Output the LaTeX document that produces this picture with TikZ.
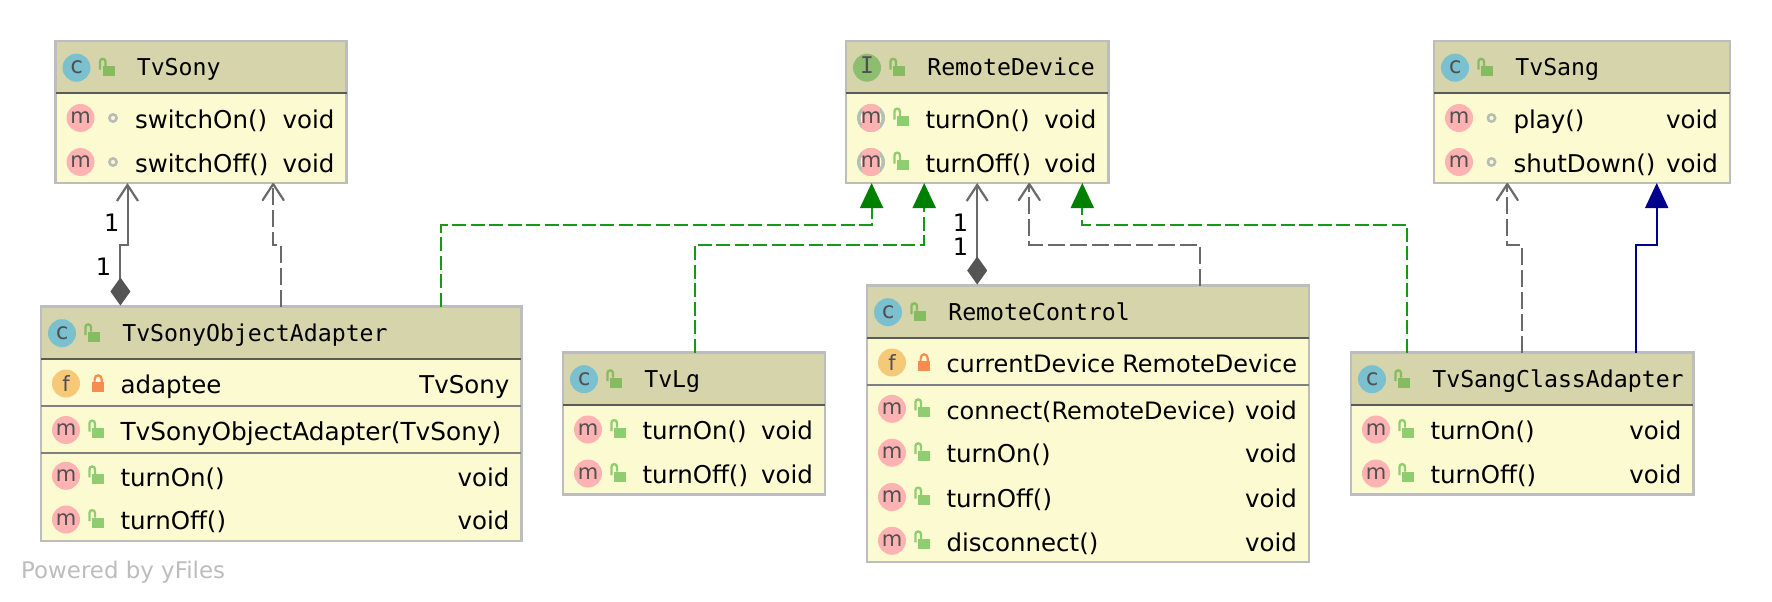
\documentclass[tikz,border=0pt]{standalone}
\usepackage{fontspec}
\setmainfont{DejaVu Sans}
\newfontfamily\hdfont{DejaVu Sans Mono}
\usetikzlibrary{arrows.meta}
\definecolor{hdbg}{HTML}{D6D4AA}
\definecolor{bodybg}{HTML}{FCFAD1}
\definecolor{edgegray}{HTML}{BDBDBD}
\definecolor{hdline}{HTML}{5A5A5A}
\definecolor{sepline}{HTML}{808080}
\definecolor{cblue}{HTML}{7AC0CF}
\definecolor{igreen}{HTML}{8DBE6F}
\definecolor{mpink}{HTML}{FFB2B2}
\definecolor{forange}{HTML}{F6C978}
\definecolor{lockhd}{HTML}{85BC60}
\definecolor{lockrow}{HTML}{90CC70}
\definecolor{lockred}{HTML}{F78C52}
\definecolor{dotgray}{HTML}{B7BDB7}
\definecolor{lettergray}{HTML}{505050}
\definecolor{conngray}{HTML}{6A6A6A}
\definecolor{diagray}{HTML}{555555}
\definecolor{implgreen}{HTML}{008000}
\definecolor{implline}{HTML}{159A15}
\definecolor{extblue}{HTML}{00008B}
\tikzset{
  classnode/.style={draw=edgegray,fill=bodybg,line width=2.5pt,inner sep=0pt,outer sep=0pt,anchor=north west},
  rowtext/.style={inner sep=0pt,outer sep=0pt,text=black,font=\fontsize{24.5}{30}\selectfont},
  headtext/.style={inner sep=0pt,outer sep=0pt,anchor=base west,text=black,font=\hdfont\fontsize{23.2}{28}\selectfont},
  iconletter/.style={inner sep=0pt,outer sep=0pt,anchor=base,text=lettergray,font=\fontsize{21}{24}\selectfont},
  monoletter/.style={inner sep=0pt,outer sep=0pt,anchor=base,text=lettergray,font=\hdfont\fontsize{23}{26}\selectfont},
  multlabel/.style={inner sep=0pt,outer sep=0pt,text=black,font=\fontsize{24}{28}\selectfont},
  depline/.style={draw=conngray,line width=2pt,dash pattern=on 17pt off 5pt,
    -{Straight Barb[length=16pt,width=21pt,line width=2.2pt,round=false,sep=0pt]}},
  assocline/.style={draw=conngray,line width=2pt,
    {Diamond[length=28pt,width=20pt,color=diagray]}-{Straight Barb[length=16pt,width=21pt,line width=2.2pt]}},
  implline/.style={draw=implline,line width=2pt,dash pattern=on 14pt off 4.5pt,
    -{Triangle[length=25pt,width=23pt,color=implgreen]}},
  extline/.style={draw=extblue,line width=2pt,
    -{Triangle[length=25pt,width=23pt,color=extblue]}}
}
\newcount\nn
\newcommand\uid{\global\advance\nn by 1 }
\newcommand\sz[1]{\fontsize{#1}{30}\selectfont}
% local icons, origin at row centre line of the box's left edge
\newcommand\hlock{\fill[lockhd] (47.3,-1.5) rectangle (59,8.5);
  \draw[lockhd,line width=2.3pt] (44.4,2) -- (44.4,-6) .. controls (44.4,-9.8) and (50,-9.8) .. (50,-6) -- (50,-1.5);}
\newcommand\publock{\fill[lockrow] (51.3,-2) rectangle (63,8);
  \draw[lockrow,line width=2.3pt] (48.4,1.5) -- (48.4,-6.5) .. controls (48.4,-10.3) and (54,-10.3) .. (54,-6.5) -- (54,-2);}
\newcommand\pkgdot{\draw[dotgray,line width=2.6pt] (57.5,0) circle[radius=3.6pt];}
\newcommand\privlock{\fill[lockred] (51.3,-2) rectangle (63,8);
  \draw[lockred,line width=2.2pt] (53.6,-1) -- (53.6,-4) .. controls (53.6,-9.6) and (60.7,-9.6) .. (60.7,-4) -- (60.7,-1);}
\newcommand\micon{\fill[mpink] (25,0) circle[radius=14pt];
  \uid\node[iconletter] (i\the\nn) at (25,5.6) {m};}
\newcommand\ficon{\fill[forange] (25,0) circle[radius=14pt];
  \uid\node[iconletter] (i\the\nn) at (25,7.8) {f};}
\newcommand\amicon{\fill[dotgray] (25,0) circle[radius=14pt];
  \fill[bodybg] (25,0) circle[radius=10.5pt];
  \begin{scope}
    \clip (25,0) circle[radius=14pt];
    \fill[mpink] (16,-14) rectangle (34,14);
  \end{scope}
  \uid\node[iconletter] (i\the\nn) at (25,5.6) {m};}
% \classbox{name}{x}{y}{w}{h}{title}{letter}{colour}
\newcommand\classbox[8]{%
  \node[classnode,minimum width=#4pt,minimum height=#5pt] (#1) at (#2,#3) {};
  \fill[hdbg] (#1.north west) rectangle ([yshift=-52pt]#1.north east);
  \draw[edgegray,line width=2.5pt] (#1.north west) rectangle (#1.south east);
  \draw[hdline,line width=2pt] ([yshift=-52pt]#1.north west) -- ([yshift=-52pt]#1.north east);
  \begin{scope}[shift={(#1.north west)},shift={(-4,26.7)}]
    \fill[#8] (25,0) circle[radius=14pt];
    \uid\node[monoletter] (i\the\nn) at (25,5.8) {#7};
    \begin{scope}[shift={(4,0)}]\hlock\end{scope}
    \uid\node[headtext] (h\the\nn) at (85.3,8) {#6};
  \end{scope}}
% \rowitem{box}{dy}{icon}{vis}{name}{type}
\newcommand\rowitem[6]{%
  \begin{scope}[shift={(#1.north west)},shift={(0,#2)}]
    #3
    #4
    \uid\node[rowtext,anchor=base west] (t\the\nn) at (79.5,10.2) {#5};
  \end{scope}
  \uid\node[rowtext,anchor=base east] (r\the\nn) at ([shift={(-12,#2+10.2)}]#1.north east) {#6};}
\newcommand\sepat[2]{\draw[sepline,line width=2pt] ([yshift=-#2pt]#1.north west) -- ([yshift=-#2pt]#1.north east);}
\begin{document}
\begin{tikzpicture}[x=1pt,y=-1pt]
\useasboundingbox (0,0) rectangle (1772,602);
\fill[white] (0,0) rectangle (1772,602);
% classes
\classbox{tvsony}{55.5}{41}{291}{142}{TvSony}{c}{cblue}
\rowitem{tvsony}{77}{\micon}{\pkgdot}{switchOn()}{void}
\rowitem{tvsony}{121}{\micon}{\pkgdot}{switchOff()}{void}

\classbox{sonyadapter}{41}{306.5}{480.4}{234.3}{TvSonyObjectAdapter}{c}{cblue}
\rowitem{sonyadapter}{77}{\ficon}{\privlock}{adaptee}{TvSony}
\sepat{sonyadapter}{99.5}
\rowitem{sonyadapter}{123.5}{\micon}{\publock}{\sz{24.8}TvSonyObjectAdapter(TvSony)}{}
\sepat{sonyadapter}{146.2}
\rowitem{sonyadapter}{169.3}{\micon}{\publock}{turnOn()}{void}
\rowitem{sonyadapter}{213}{\micon}{\publock}{turnOff()}{void}

\classbox{remotedevice}{846}{41}{262.3}{142}{RemoteDevice}{I}{igreen}
\rowitem{remotedevice}{77}{\amicon}{\publock}{turnOn()}{void}
\rowitem{remotedevice}{121}{\amicon}{\publock}{turnOff()}{void}

\classbox{tvlg}{563}{352.5}{262}{142}{TvLg}{c}{cblue}
\rowitem{tvlg}{77}{\micon}{\publock}{turnOn()}{void}
\rowitem{tvlg}{121}{\micon}{\publock}{turnOff()}{void}

\classbox{remotecontrol}{867}{285.5}{442}{276.5}{RemoteControl}{c}{cblue}
\rowitem{remotecontrol}{77}{\ficon}{\privlock}{\sz{24}currentDevice}{\sz{24}RemoteDevice}
\sepat{remotecontrol}{99.5}
\rowitem{remotecontrol}{123.3}{\micon}{\publock}{\sz{24}connect(RemoteDevice)}{void}
\rowitem{remotecontrol}{167.2}{\micon}{\publock}{turnOn()}{void}
\rowitem{remotecontrol}{211.5}{\micon}{\publock}{turnOff()}{void}
\rowitem{remotecontrol}{255.3}{\micon}{\publock}{disconnect()}{void}

\classbox{tvsang}{1434}{41}{296}{142}{TvSang}{c}{cblue}
\rowitem{tvsang}{77}{\micon}{\pkgdot}{play()}{void}
\rowitem{tvsang}{121}{\micon}{\pkgdot}{shutDown()}{void}

\classbox{sangadapter}{1351}{352.5}{342.3}{142}{TvSangClassAdapter}{c}{cblue}
\rowitem{sangadapter}{77}{\micon}{\publock}{turnOn()}{void}
\rowitem{sangadapter}{121}{\micon}{\publock}{turnOff()}{void}

% connectors
\draw[assocline] ([xshift=79.4pt,yshift=1pt]sonyadapter.north west) -- (120.4,244.6) -- (127.5,244.6) -- ([xshift=72pt]tvsony.south west);
\draw[depline] ([xshift=240.4pt]sonyadapter.north west) -- (281.4,244.6) -- (273.2,244.6) -- ([xshift=217.7pt]tvsony.south west);
\draw[implline] ([xshift=400.4pt]sonyadapter.north west) -- (441.4,224.6) -- (871.6,224.6) -- ([xshift=25.6pt]remotedevice.south west);
\draw[implline] ([xshift=131.6pt]tvlg.north west) -- (694.6,244.6) -- (924.2,244.6) -- ([xshift=78.2pt]remotedevice.south west);
\draw[assocline] ([xshift=110.2pt,yshift=1pt]remotecontrol.north west) -- ([xshift=131.2pt]remotedevice.south west);
\draw[depline] ([xshift=332.7pt]remotecontrol.north west) -- (1199.7,244.6) -- (1029.3,244.6) -- ([xshift=183.3pt]remotedevice.south west);
\draw[implline] ([xshift=56.3pt]sangadapter.north west) -- (1407.3,224.6) -- (1082.3,224.6) -- ([xshift=236.3pt]remotedevice.south west);
\draw[depline] ([xshift=171.3pt]sangadapter.north west) -- (1522.3,244.6) -- (1507.3,244.6) -- ([xshift=73.3pt]tvsang.south west);
\draw[extline] ([xshift=285.3pt]sangadapter.north west) -- (1636.3,244.6) -- (1656.7,244.6) -- ([xshift=222.7pt]tvsang.south west);
% multiplicities
\node[multlabel] (m1) at (111.7,222.5) {1};
\node[multlabel] (m2) at (103.6,267) {1};
\node[multlabel] (m3) at (960.4,223) {1};
\node[multlabel] (m4) at (960.4,247) {1};
% watermark
\node[inner sep=0pt,anchor=base west,text=edgegray,font=\fontsize{22.9}{26}\selectfont] (yfiles) at (21,578) {Powered by yFiles};
\end{tikzpicture}
\end{document}
